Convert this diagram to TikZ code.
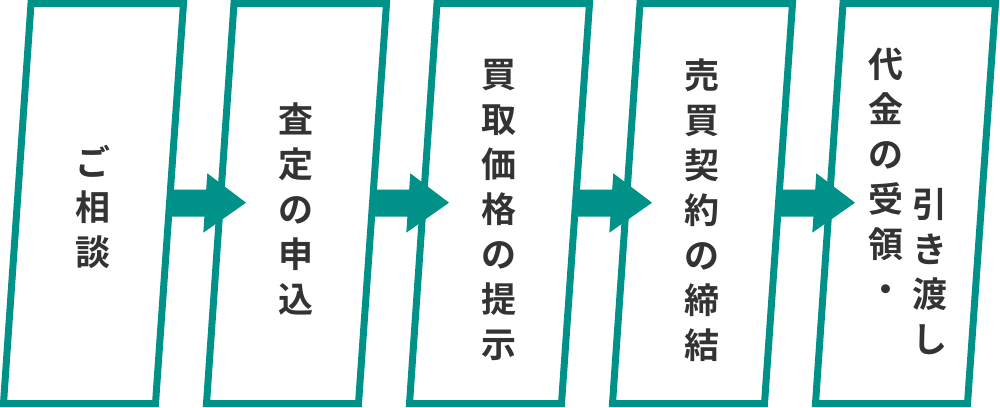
\documentclass[tikz,border=0pt]{standalone}
\usepackage{fontspec}
\newfontfamily\jp{Noto Sans CJK JP}[BoldFont={Noto Sans CJK JP Bold}]
\definecolor{teal1}{RGB}{0,145,137}
\definecolor{ink}{RGB}{51,51,51}
\tikzset{
  stepbox/.style={draw=teal1, line width=3.5pt, fill=white, line join=miter},
  flowarrow/.style={fill=teal1, draw=none},
  vtext/.style={inner sep=0pt, align=center, text=ink,
    font=\jp\bfseries\fontsize{17.5}{22.5}\selectfont}
}
\begin{document}
\begin{tikzpicture}[x=0.5pt,y=-0.5pt]
\useasboundingbox (0,0) rectangle (1000,407);
% boxes
\foreach \k in {0,...,4}{
  \draw[stepbox] (\k*203+3.5,403.5) coordinate (b\k bl)
     -- (\k*203+31,3.5) coordinate (b\k tl)
     -- (\k*203+183.5,3.5) coordinate (b\k tr)
     -- (\k*203+155.5,403.5) coordinate (b\k br) -- cycle;
}
% arrows
\foreach \k in {0,...,3}{
  \coordinate (a\k s) at (\k*203+170,203);
  \fill[flowarrow] (\k*203+170,189.5) -- (\k*203+206.2,189.5)
    -- (\k*203+207.3,173.3) -- (\k*203+246,202.7)
    -- (\k*203+203.3,232.7) -- (\k*203+204.4,216.5)
    -- (\k*203+170,216.5) -- cycle;
}
% texts
\node[vtext] (t1) at (93,207) {ご\\相\\談};
\node[vtext] (t2) at (296,209) {査\\定\\の\\申\\込};
\node[vtext] (t3) at (499,210) {買\\取\\価\\格\\の\\提\\示};
\node[vtext] (t4) at (702,210) {売\\買\\契\\約\\の\\締\\結};
\node[vtext] (t5a) at (886,175) {代\\金\\の\\受\\領\\・};
\node[vtext] (t5b) at (930,271.5) {引\\き\\渡\\し};
\end{tikzpicture}
\end{document}
